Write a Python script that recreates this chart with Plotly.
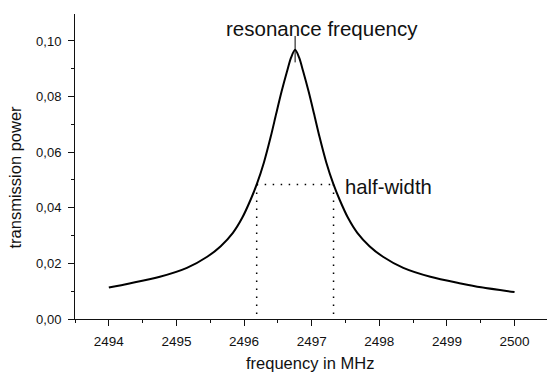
import numpy as np
import plotly.graph_objects as go

# Data
freq_mhz = [2494.000, 2494.305, 2494.755, 2495.155, 2495.455, 2495.655, 2495.835, 2495.975,
            2496.095, 2496.190, 2496.295, 2496.395, 2496.475, 2496.555, 2496.635, 2496.695,
            2496.755,
            2496.815, 2496.875, 2496.955, 2497.035, 2497.115, 2497.215, 2497.320, 2497.415,
            2497.535, 2497.675, 2497.855, 2498.055, 2498.355, 2498.755, 2499.205, 2499.505,
            2500.000]
power = [0.0113, 0.0128, 0.0152, 0.0184, 0.0224, 0.0262, 0.0310, 0.0365,
         0.0428, 0.0486, 0.0564, 0.0656, 0.0738, 0.0818, 0.0890, 0.0940,
         0.0968,
         0.0940, 0.0890, 0.0818, 0.0738, 0.0656, 0.0564, 0.0486, 0.0428,
         0.0365, 0.0310, 0.0262, 0.0224, 0.0184, 0.0152, 0.0128, 0.0114,
         0.0097]
x_ticks = [2494, 2495, 2496, 2497, 2498, 2499, 2500]
y_ticks = [0.00, 0.02, 0.04, 0.06, 0.08, 0.10]
y_tick_labels = ["0,00", "0,02", "0,04", "0,06", "0,08", "0,10"]

FONT = "Liberation Sans, Arial, sans-serif"
INK = "#111111"

x = np.array(freq_mhz)
y = np.array(power)
i_pk = int(np.argmax(y))
pk_x, pk_y = x[i_pk], y[i_pk]
half = pk_y / 2.0
# half-max crossing points from the data
xl = float(np.interp(half, y[:i_pk + 1], x[:i_pk + 1]))
xr = float(np.interp(half, y[i_pk:][::-1], x[i_pk:][::-1]))

fig = go.Figure()
fig.add_trace(go.Scatter(x=freq_mhz, y=power, mode="lines",
                         line=dict(color="black", width=2, shape="spline", smoothing=0.8),
                         hoverinfo="skip", showlegend=False))

dot = dict(color="black", width=1.5, dash="1.5px,6.5px")
fig.add_shape(type="line", xref="x", yref="y", x0=xl, x1=xr, y0=half, y1=half, line=dot)
fig.add_shape(type="line", xref="x", yref="y", x0=xl, x1=xl, y0=half, y1=0.001, line=dot)
fig.add_shape(type="line", xref="x", yref="y", x0=xr, x1=xr, y0=half, y1=0.001, line=dot)
fig.add_shape(type="line", xref="x", yref="y", x0=pk_x, x1=pk_x, y0=pk_y - 0.0045, y1=pk_y + 0.005,
              line=dict(color="black", width=1))

fig.add_annotation(text="resonance frequency", xref="paper", yref="paper", x=0.5227, y=0.951,
                   showarrow=False, xanchor="center", yanchor="middle",
                   font=dict(family=FONT, size=20.5, color=INK))
fig.add_annotation(text="half-width", xref="paper", yref="paper", x=0.665, y=0.433,
                   showarrow=False, xanchor="center", yanchor="middle",
                   font=dict(family=FONT, size=20.3, color=INK))
fig.add_annotation(text="frequency in MHz", xref="paper", yref="paper", x=0.4989, y=-0.144,
                   showarrow=False, xanchor="center", yanchor="middle",
                   font=dict(family=FONT, size=16.5, color=INK))
fig.add_annotation(text="transmission power", xref="paper", yref="paper", x=-0.127, y=0.464,
                   showarrow=False, xanchor="center", yanchor="middle", textangle=-90,
                   font=dict(family=FONT, size=16.5, color=INK))

fig.update_xaxes(range=[2493.5, 2500.48], tickvals=x_ticks, ticktext=[str(v) for v in x_ticks],
                 ticks="outside", ticklen=6, tickwidth=1, tickcolor=INK,
                 minor=dict(dtick=0.5, tick0=2493.5, ticks="outside", ticklen=3, tickwidth=1, tickcolor=INK, showgrid=False),
                 showline=True, linecolor=INK, linewidth=1, showgrid=False, zeroline=False,
                 tickfont=dict(family=FONT, size=13.5, color=INK), ticklabelstandoff=4)
fig.update_yaxes(range=[0, 0.1097], tickvals=y_ticks, ticktext=y_tick_labels,
                 ticks="outside", ticklen=6, tickwidth=1, tickcolor=INK,
                 minor=dict(dtick=0.01, tick0=0, ticks="outside", ticklen=3, tickwidth=1, tickcolor=INK, showgrid=False),
                 showline=True, linecolor=INK, linewidth=1, showgrid=False, zeroline=False,
                 tickfont=dict(family=FONT, size=13, color=INK), ticklabelstandoff=4)

fig.update_layout(width=547, height=372, margin=dict(l=75, r=0, t=14, b=53),
                  paper_bgcolor="white", plot_bgcolor="white", showlegend=False)

fig.write_html("out.html")
